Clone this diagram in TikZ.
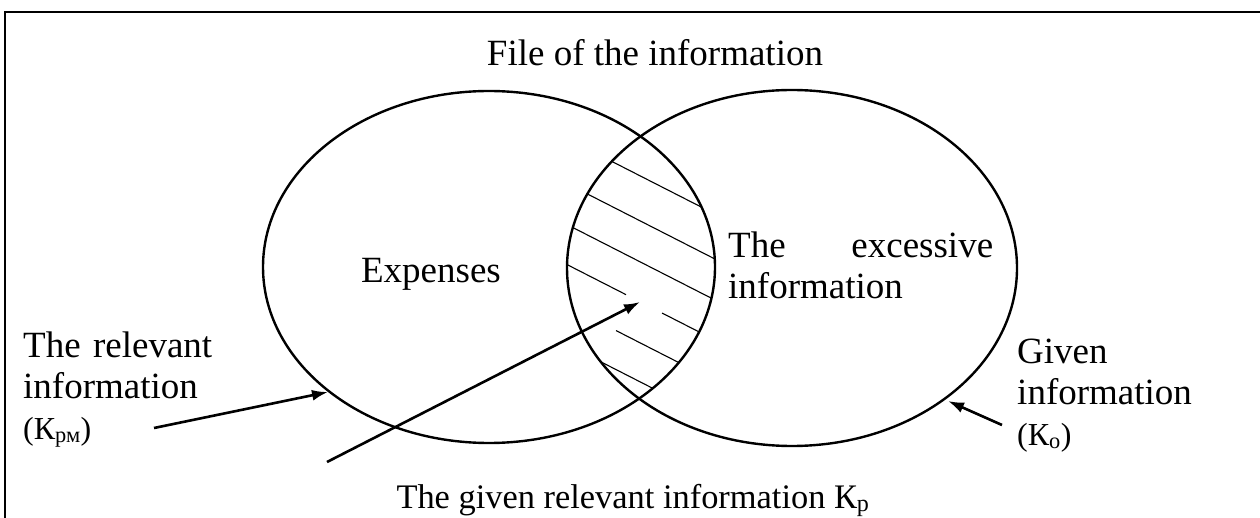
\documentclass[tikz,border=0pt]{standalone}
\usepackage{fontspec}
\setmainfont{Liberation Serif}
\usetikzlibrary{arrows.meta}
\begin{document}
\begin{tikzpicture}[x=1pt,y=-1pt,
  lbl/.style={inner sep=0pt, font=\fontsize{37}{41}\selectfont},
  venn/.style={line width=2.4pt},
  hatch/.style={line width=1.1pt},
  pointer/.style={line width=2.6pt, -{Latex[length=16pt,width=11pt]}}]
\useasboundingbox (0,0) rectangle (1260,518);
% frame
\draw[line width=2pt] (5,540) -- (5,12) -- (1280,12);
% hatching of the intersection
\begin{scope}
  \clip (489,267) ellipse [x radius=226pt, y radius=176pt];
  \clip (792,268) ellipse [x radius=225pt, y radius=178pt];
  \foreach \y in {175.8,220.8,261.8,381.8}
    \draw[hatch] (540,{\y-0.51*100}) -- (740,{\y+0.51*100});
  \draw[hatch] (540,{301.8-0.51*100}) -- (626,{301.8-0.51*14});
  \draw[hatch] (662,{301.8+0.51*22}) -- (740,{301.8+0.51*100});
  \draw[hatch] (616,{342.8-0.51*24}) -- (740,{342.8+0.51*100});
\end{scope}
% ellipses
\draw[venn] (489,267) ellipse [x radius=226pt, y radius=176pt];
\draw[venn] (792,268) ellipse [x radius=225pt, y radius=178pt];
% texts
\node[lbl, anchor=base] (title) at (655,66) {File of the information};
\node[lbl, anchor=base] (exp) at (431,283) {Expenses};
\node[lbl, anchor=base west, text width=265pt, align=left] (exc) at (728,258) {The\hfill excessive\\information};
\node[lbl, anchor=base west, text width=220pt, align=left] (rel) at (23,357) {The relevant\\information\\{\fontsize{32}{41}\selectfont(К\textsubscript{рм})}};
\node[lbl, anchor=base west, text width=220pt, align=left] (giv) at (1017,363) {Given\\information\\{\fontsize{32}{41}\selectfont(К\textsubscript{о})}};
\node[lbl, anchor=base, font=\fontsize{34.4}{40}\selectfont] (grel) at (633,508) {The given relevant information К\textsubscript{р}};
% arrows
\coordinate (relS) at (154,428);
\coordinate (relE) at (328,392);
\coordinate (grS) at (327,462);
\coordinate (grE) at (640,302);
\coordinate (givS) at (1002,425);
\coordinate (givE) at (948,401);
\draw[pointer] (relS) -- (relE);
\draw[pointer] (grS) -- (grE);
\draw[pointer] (givS) -- (givE);
\end{tikzpicture}
\end{document}
